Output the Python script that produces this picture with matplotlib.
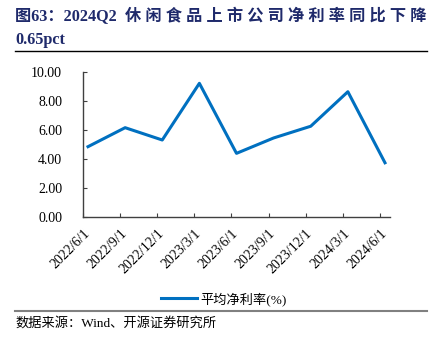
import matplotlib.pyplot as plt
import numpy as np

dates = ['2022/6/1', '2022/9/1', '2022/12/1', '2023/3/1', '2023/6/1',
         '2023/9/1', '2023/12/1', '2024/3/1', '2024/6/1']
net_margin = [4.85, 6.16, 5.31, 9.22, 4.39, 5.45, 6.26, 8.64, 3.74]
yticks = [0, 2, 4, 6, 8, 10]

fam = ['Liberation Serif', 'Noto Sans CJK SC']
plt.rcParams['font.family'] = fam

fig = plt.figure(figsize=(4.47, 3.52), dpi=100)
ax = fig.add_axes([83 / 447, 1 - 217 / 352, 307 / 447, 145 / 352])

x = np.arange(len(net_margin))
ax.plot(x, net_margin, color='#0070C0', lw=2.2, label='平均净利率(%)')

off = 0.135
ax.set_xlim(-off, len(x) - 1 + off)
ax.set_ylim(0, 10)
ax.set_xticks(x - off)
ax.set_xticklabels(dates, rotation=45, ha='right', rotation_mode='anchor', fontsize=10)
ax.set_yticks(yticks)
ax.set_yticklabels(['%.2f' % v for v in yticks], fontsize=10)
ax.tick_params(direction='in', length=3, color='#404040')
ax.tick_params(axis='y', pad=15)
ax.tick_params(axis='x', pad=7)
for s in ['top', 'right']:
    ax.spines[s].set_visible(False)
for s in ['left', 'bottom']:
    ax.spines[s].set_color('#404040')
    ax.spines[s].set_linewidth(1.0)

leg = fig.legend(loc='center', bbox_to_anchor=(0.5, 1 - 299 / 352), frameon=False,
                 fontsize=9.5, handlelength=2.8, handletextpad=0.2)

navy = '#1F2A6B'
fig.text(15 / 447, 1 - 16 / 352, '图63：2024Q2  休 闲 食 品 上 市 公 司 净 利 率 同 比 下 降',
         fontsize=11.7, fontweight='bold', color=navy, va='center', ha='left')
fig.text(15 / 447, 1 - 40 / 352, '0.65pct', fontsize=11.7, fontweight='bold',
         color=navy, va='center', ha='left')
fig.add_artist(plt.Line2D([15 / 447, 427 / 447], [1 - 51 / 352, 1 - 51 / 352],
                          color='black', lw=1.0))
fig.add_artist(plt.Line2D([15 / 447, 427 / 447], [1 - 311 / 352, 1 - 311 / 352],
                          color='#808080', lw=1.5))
fig.text(15 / 447, 1 - 323 / 352, '数据来源：Wind、开源证券研究所', fontsize=9.5,
         color='black', va='center', ha='left')

fig.savefig('out.png', dpi=100)
